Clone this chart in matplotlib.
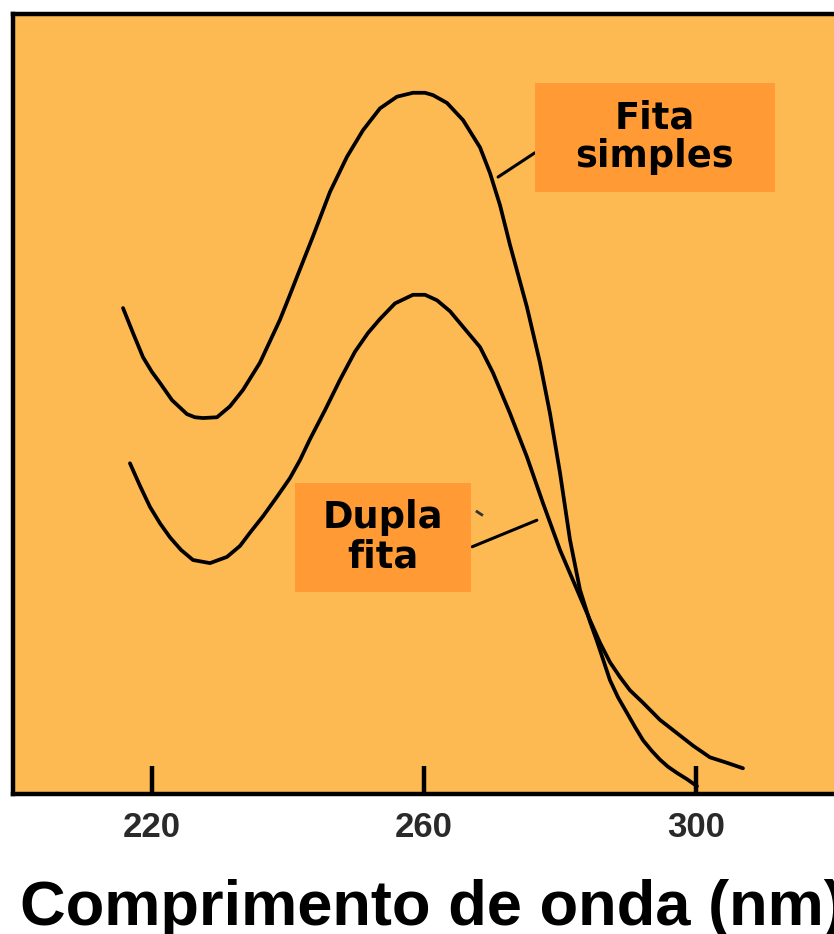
import matplotlib
matplotlib.use("Agg")
import matplotlib.pyplot as plt
from matplotlib.patches import Rectangle

# ---- data ----
wl_simples = [215.74, 217.21, 218.68, 220.00, 221.18, 222.94, 225.15, 226.32, 227.50, 229.56,
              231.47, 233.38, 235.88, 238.82, 240.29, 241.32, 243.68, 246.18, 248.68, 251.03,
              253.53, 256.03, 258.38, 260.15, 261.32, 263.38, 265.74, 268.24, 269.71, 271.18,
              272.65, 275.15, 277.06, 278.53, 280.00, 281.47, 282.94, 284.41, 285.44, 286.32,
              287.35, 288.53, 289.85, 291.03, 292.21, 293.53, 294.71, 295.88, 297.21, 298.68,
              300.15]
abs_simples = [0.623, 0.591, 0.560, 0.541, 0.527, 0.505, 0.487, 0.483, 0.482, 0.483,
               0.497, 0.518, 0.553, 0.608, 0.640, 0.663, 0.715, 0.772, 0.817, 0.851,
               0.879, 0.894, 0.899, 0.899, 0.896, 0.886, 0.864, 0.829, 0.796, 0.755,
               0.704, 0.624, 0.553, 0.488, 0.412, 0.326, 0.262, 0.221, 0.196, 0.173,
               0.146, 0.124, 0.104, 0.086, 0.069, 0.055, 0.044, 0.035, 0.027, 0.019,
               0.010]

wl_dupla = [216.76, 218.24, 219.71, 221.18, 222.65, 224.26, 226.03, 228.53, 231.03, 232.94,
            234.41, 236.32, 238.38, 240.29, 241.76, 243.24, 245.44, 247.65, 249.85, 251.76,
            253.53, 255.74, 258.38, 260.15, 261.91, 263.82, 265.74, 268.24, 270.15, 272.65,
            275.15, 277.50, 280.00, 282.50, 284.41, 285.88, 287.35, 288.82, 290.29, 292.21,
            294.71, 297.21, 299.56, 302.06, 304.56, 306.91]
abs_dupla = [0.424, 0.395, 0.368, 0.347, 0.329, 0.313, 0.300, 0.296, 0.304, 0.318,
             0.335, 0.356, 0.381, 0.405, 0.428, 0.455, 0.492, 0.531, 0.567, 0.591,
             0.609, 0.629, 0.640, 0.640, 0.633, 0.619, 0.599, 0.573, 0.540, 0.488,
             0.432, 0.373, 0.313, 0.262, 0.223, 0.194, 0.169, 0.150, 0.133, 0.117,
             0.095, 0.078, 0.062, 0.047, 0.040, 0.033]

xticks = [220, 260, 300]
xtick_labels = ["220", "260", "300"]
label_simples = "Fita\nsimples"
label_dupla = "Dupla\nfita"
xlabel = "Comprimento de onda (nm)"

BG = "#FDB952"
BOX = "#FF9A35"

W, H = 834, 934
fig = plt.figure(figsize=(W / 100, H / 100), dpi=100)
fig.patch.set_facecolor("white")

left_px, right_px, top_px, bot_px = 13, 834, 14, 794
ax = fig.add_axes([left_px / W, 1 - bot_px / H, (right_px - left_px) / W, (bot_px - top_px) / H])
ax.set_facecolor(BG)
ax.set_xlim(199.56, 320.3)
ax.set_ylim(0, 1)

for s in ["left", "top", "bottom"]:
    ax.spines[s].set_linewidth(3.2)
    ax.spines[s].set_color("black")
ax.spines["right"].set_visible(False)

line_kw = dict(color="black", lw=2.7, solid_capstyle="round", solid_joinstyle="round", zorder=3)
ax.plot(wl_simples, abs_simples, **line_kw)
ax.plot(wl_dupla, abs_dupla, **line_kw)

# leader lines
ax.plot([270.9, 276.3], [0.791, 0.822], color="black", lw=2.2, solid_capstyle="round", zorder=3)
ax.plot([267.1, 276.6], [0.317, 0.351], color="black", lw=2.2, solid_capstyle="round", zorder=3)
ax.plot([267.8, 268.5], [0.362, 0.358], color="#333333", lw=2.0, zorder=3)

# label boxes
ax.add_patch(Rectangle((276.3, 0.772), 311.6 - 276.3, 0.912 - 0.772, facecolor=BOX,
                       edgecolor="none", zorder=4))
ax.text((276.3 + 311.6) / 2, (0.772 + 0.912) / 2, label_simples, ha="center", va="center",
        fontsize=26.5, fontweight="bold", family="DejaVu Sans", linespacing=1.05, zorder=5)
ax.add_patch(Rectangle((241.0, 0.259), 266.9 - 241.0, 0.399 - 0.259, facecolor=BOX,
                       edgecolor="none", zorder=4))
ax.text((241.0 + 266.9) / 2, (0.259 + 0.399) / 2, label_dupla, ha="center", va="center",
        fontsize=26.5, fontweight="bold", family="DejaVu Sans", linespacing=1.1, zorder=5)

ax.set_xticks(xticks)
ax.set_xticklabels(xtick_labels, fontsize=25, fontweight="bold",
                   family="Liberation Sans", color="#2a2a2a")
ax.tick_params(axis="x", direction="in", length=20, width=3.2, color="black", pad=12)
ax.set_yticks([])

fig.text(20 / W, 1 - 925 / H, xlabel, ha="left", va="baseline", fontsize=45.5,
         fontweight="bold", family="Liberation Sans", color="black")

fig.savefig("out.png", dpi=100, facecolor=fig.get_facecolor())
